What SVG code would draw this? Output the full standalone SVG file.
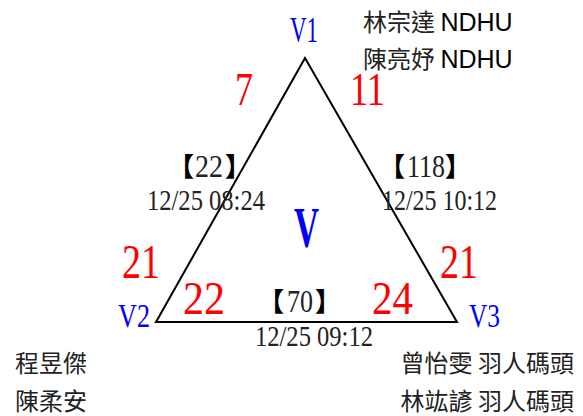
<svg xmlns="http://www.w3.org/2000/svg" width="583" height="416" viewBox="0 0 583 416">
<style>
.ser{font-family:"Liberation Serif","Noto Sans CJK TC",serif}
.red{fill:#ff0000}
.blue{fill:#0000ff}
.blk{fill:#222222}
.br{font-family:"Noto Sans CJK TC",sans-serif;font-weight:900;font-size:26px;fill:#000000}
.cjk{font-family:"Noto Sans CJK TC","Liberation Sans",sans-serif;font-size:24px;fill:#222222}
.sans{font-family:"Liberation Sans",Arial,sans-serif}
</style>
<rect width="583" height="416" fill="#ffffff"/>
<g id="connectors">
<polygon points="305,58 156,322 457,322" fill="none" stroke="#000000" stroke-width="2" stroke-linejoin="miter"/>
</g>
<g id="V1">
<text class="ser blue" x="290" y="42" font-size="35" textLength="28" lengthAdjust="spacingAndGlyphs">V1</text>
</g>
<g id="V2">
<text class="ser blue" x="118" y="327" font-size="33" textLength="32" lengthAdjust="spacingAndGlyphs">V2</text>
</g>
<g id="V3">
<text class="ser blue" x="469" y="327" font-size="33" textLength="31" lengthAdjust="spacingAndGlyphs">V3</text>
</g>
<g id="V">
<text class="ser blue" x="294" y="247" font-size="57" font-weight="bold" textLength="25" lengthAdjust="spacingAndGlyphs">V</text>
</g>
<g id="weights">
<text class="ser red" x="235" y="105" font-size="47" textLength="18" lengthAdjust="spacingAndGlyphs">7</text>
<text class="ser red" x="350" y="105" font-size="47" textLength="35" lengthAdjust="spacingAndGlyphs">11</text>
<text class="ser red" x="122" y="278" font-size="48" textLength="38" lengthAdjust="spacingAndGlyphs">21</text>
<text class="ser red" x="440" y="278" font-size="48" textLength="38" lengthAdjust="spacingAndGlyphs">21</text>
<text class="ser red" x="183" y="314" font-size="46" textLength="42" lengthAdjust="spacingAndGlyphs">22</text>
<text class="ser red" x="372" y="314" font-size="46" textLength="41" lengthAdjust="spacingAndGlyphs">24</text>
</g>
<g id="edge-labels">
<text class="ser blk" y="176" font-size="31"><tspan class="br" x="168">【</tspan><tspan x="195" y="177" textLength="28" lengthAdjust="spacingAndGlyphs">22</tspan><tspan class="br" x="225" y="176">】</tspan></text>
<text class="ser blk" x="147" y="210" font-size="29" textLength="118" lengthAdjust="spacingAndGlyphs">12/25 08:24</text>
<text class="ser blk" y="176" font-size="31"><tspan class="br" x="379">【</tspan><tspan x="407" y="177" textLength="38" lengthAdjust="spacingAndGlyphs">118</tspan><tspan class="br" x="445" y="176">】</tspan></text>
<text class="ser blk" x="382" y="210" font-size="29" textLength="115" lengthAdjust="spacingAndGlyphs">12/25 10:12</text>
<text class="ser blk" y="311" font-size="31"><tspan class="br" x="258">【</tspan><tspan x="287" y="312" textLength="26" lengthAdjust="spacingAndGlyphs">70</tspan><tspan class="br" x="315" y="311">】</tspan></text>
<text class="ser blk" x="255" y="346" font-size="29" textLength="118" lengthAdjust="spacingAndGlyphs">12/25 09:12</text>
</g>
<g id="team-top">
<text class="cjk" x="363" y="31">林宗達 <tspan class="sans" font-size="25" fill="#000000">NDHU</tspan></text>
<text class="cjk" x="363" y="68">陳亮妤 <tspan class="sans" font-size="25" fill="#000000">NDHU</tspan></text>
</g>
<g id="team-left">
<text class="cjk" x="15" y="372">程昱傑</text>
<text class="cjk" x="15" y="410">陳柔安</text>
</g>
<g id="team-right">
<text class="cjk" x="574" y="372" text-anchor="end">曾怡雯 羽人碼頭</text>
<text class="cjk" x="574" y="410" text-anchor="end">林竑諺 羽人碼頭</text>
</g>
</svg>
